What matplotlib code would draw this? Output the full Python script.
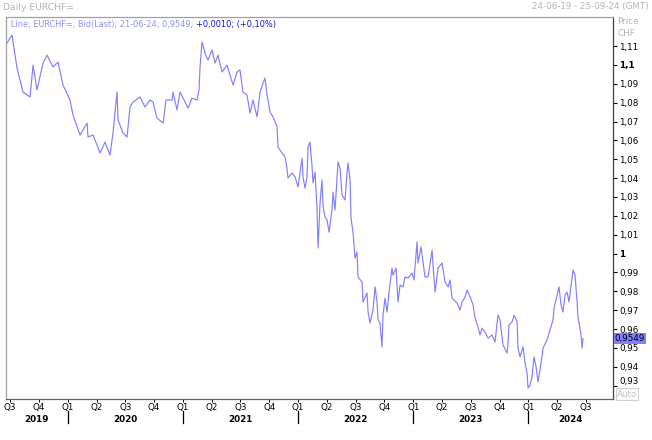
import matplotlib
matplotlib.use("Agg")
import matplotlib.pyplot as plt
import matplotlib.transforms as mtransforms

# EURCHF bid; time as decimal years (2019.5 = start of Q3 2019)
years = [
    2019.473, 2019.516, 2019.560, 2019.586, 2019.612, 2019.673, 2019.699, 2019.733, 2019.786, 2019.820,
    2019.872, 2019.916, 2019.959, 2020.020, 2020.046, 2020.107, 2020.168, 2020.176, 2020.220, 2020.281,
    2020.324, 2020.367, 2020.393, 2020.428, 2020.437, 2020.480, 2020.515, 2020.541, 2020.567, 2020.628,
    2020.671, 2020.715, 2020.741, 2020.775, 2020.828, 2020.854, 2020.906, 2020.914, 2020.949, 2020.975,
    2021.019, 2021.045, 2021.079, 2021.123, 2021.140, 2021.149, 2021.166, 2021.192, 2021.218, 2021.253,
    2021.279, 2021.305, 2021.340, 2021.383, 2021.409, 2021.436, 2021.470, 2021.496, 2021.522, 2021.557,
    2021.583, 2021.609, 2021.644, 2021.670, 2021.696, 2021.713, 2021.731, 2021.757, 2021.783, 2021.818,
    2021.826, 2021.861, 2021.887, 2021.904, 2021.913, 2021.948, 2021.974, 2022.000, 2022.035, 2022.043,
    2022.061, 2022.078, 2022.087, 2022.104, 2022.122, 2022.130, 2022.148, 2022.165, 2022.174, 2022.191,
    2022.208, 2022.217, 2022.234, 2022.252, 2022.269, 2022.295, 2022.304, 2022.321, 2022.347, 2022.365,
    2022.382, 2022.408, 2022.425, 2022.434, 2022.452, 2022.460, 2022.478, 2022.495, 2022.512, 2022.521,
    2022.556, 2022.564, 2022.599, 2022.608, 2022.625, 2022.651, 2022.669, 2022.686, 2022.695, 2022.712,
    2022.729, 2022.738, 2022.755, 2022.773, 2022.790, 2022.816, 2022.825, 2022.851, 2022.868, 2022.886,
    2022.912, 2022.929, 2022.955, 2022.990, 2023.007, 2023.033, 2023.042, 2023.068, 2023.085, 2023.103,
    2023.129, 2023.164, 2023.172, 2023.190, 2023.216, 2023.250, 2023.277, 2023.303, 2023.320, 2023.337,
    2023.381, 2023.407, 2023.424, 2023.450, 2023.468, 2023.494, 2023.520, 2023.537, 2023.563, 2023.580,
    2023.598, 2023.624, 2023.650, 2023.685, 2023.711, 2023.728, 2023.737, 2023.754, 2023.780, 2023.815,
    2023.824, 2023.832, 2023.858, 2023.876, 2023.902, 2023.910, 2023.928, 2023.954, 2023.971, 2023.989,
    2023.997, 2024.015, 2024.032, 2024.049, 2024.067, 2024.084, 2024.110, 2024.128, 2024.162, 2024.188,
    2024.214, 2024.223, 2024.249, 2024.266, 2024.284, 2024.301, 2024.319, 2024.336, 2024.353, 2024.379,
    2024.388, 2024.405, 2024.423, 2024.431, 2024.458, 2024.466, 2024.475,
]
prices = [
    1.1116, 1.1158, 1.0983, 1.0920, 1.0856, 1.0830, 1.0999, 1.0867, 1.1010, 1.1052,
    1.0989, 1.1015, 1.0893, 1.0814, 1.0734, 1.0628, 1.0692, 1.0618, 1.0628, 1.0533,
    1.0591, 1.0522, 1.0639, 1.0856, 1.0708, 1.0639, 1.0618, 1.0777, 1.0803, 1.0830,
    1.0777, 1.0814, 1.0803, 1.0718, 1.0692, 1.0814, 1.0814, 1.0856, 1.0761, 1.0856,
    1.0803, 1.0771, 1.0824, 1.0814, 1.0867, 1.0989, 1.1121, 1.1063, 1.1026, 1.1079,
    1.1010, 1.1052, 1.0962, 1.0999, 1.0946, 1.0893, 1.0962, 1.0973, 1.0856, 1.0840,
    1.0745, 1.0814, 1.0724, 1.0856, 1.0904, 1.0930, 1.0840, 1.0750, 1.0724, 1.0671,
    1.0565, 1.0533, 1.0512, 1.0453, 1.0400, 1.0427, 1.0406, 1.0353, 1.0506, 1.0406,
    1.0347, 1.0406, 1.0565, 1.0591, 1.0459, 1.0374, 1.0432, 1.0231, 1.0029, 1.0268,
    1.0390, 1.0247, 1.0194, 1.0178, 1.0114, 1.0231, 1.0326, 1.0231, 1.0485, 1.0453,
    1.0310, 1.0284, 1.0427, 1.0480, 1.0390, 1.0188, 1.0109, 0.9976, 1.0008, 0.9876,
    0.9849, 0.9743, 0.9791, 0.9690, 0.9632, 0.9701, 0.9823, 0.9743, 0.9648, 0.9632,
    0.9505, 0.9674, 0.9764, 0.9690, 0.9796, 0.9923, 0.9886, 0.9923, 0.9743, 0.9833,
    0.9823, 0.9876, 0.9870, 0.9897, 0.9860, 1.0061, 0.9950, 1.0035, 0.9955, 0.9876,
    0.9876, 1.0019, 0.9939, 0.9796, 0.9923, 0.9950, 0.9849, 0.9823, 0.9860, 0.9764,
    0.9738, 0.9701, 0.9743, 0.9770, 0.9807, 0.9770, 0.9727, 0.9658, 0.9611, 0.9568,
    0.9605, 0.9584, 0.9552, 0.9568, 0.9531, 0.9632, 0.9674, 0.9648, 0.9515, 0.9473,
    0.9531, 0.9621, 0.9637, 0.9674, 0.9637, 0.9499, 0.9452, 0.9505, 0.9420, 0.9367,
    0.9287, 0.9303, 0.9346, 0.9452, 0.9399, 0.9319, 0.9420, 0.9499, 0.9542, 0.9595,
    0.9648, 0.9711, 0.9780, 0.9823, 0.9727, 0.9690, 0.9780, 0.9796, 0.9743, 0.9870,
    0.9913, 0.9886, 0.9743, 0.9664, 0.9568, 0.9499, 0.9549,
]

last_price = 0.9549
price_ticks = [1.11, 1.10, 1.09, 1.08, 1.07, 1.06, 1.05, 1.04, 1.03, 1.02,
               1.01, 1.00, 0.99, 0.98, 0.97, 0.96, 0.95, 0.94, 0.93]
quarter_pos = [2019.5, 2019.75, 2020.0, 2020.25, 2020.5, 2020.75, 2021.0, 2021.25,
               2021.5, 2021.75, 2022.0, 2022.25, 2022.5, 2022.75, 2023.0, 2023.25,
               2023.5, 2023.75, 2024.0, 2024.25, 2024.5]
quarter_lbl = ['Q3', 'Q4', 'Q1', 'Q2', 'Q3', 'Q4', 'Q1', 'Q2', 'Q3', 'Q4', 'Q1',
               'Q2', 'Q3', 'Q4', 'Q1', 'Q2', 'Q3', 'Q4', 'Q1', 'Q2', 'Q3']
year_lbl = [2019, 2020, 2021, 2022, 2023, 2024]

plt.rcParams['font.family'] = ['DejaVu Sans']
fs = 6.3

fig = plt.figure(figsize=(6.52, 4.4), dpi=100)
W, H = 652.0, 440.0
ax = fig.add_axes([6 / W, 41 / H, 607 / W, 382 / H])

ax.plot(years, prices, color='#8080ff', lw=0.85)

x0, x1 = 2019.464, 2024.735
ax.set_xlim(x0, x1)
ax.set_ylim(0.9229, 1.1254)

for side in ['left', 'top']:
    ax.spines[side].set_color('#a0a0a0')
ax.spines['bottom'].set_color('#606060')
ax.spines['right'].set_color('#404040')
for s in ax.spines.values():
    s.set_linewidth(0.9)

# right price axis
ax.yaxis.tick_right()
ax.set_yticks(price_ticks)
lbls = []
for v in price_ticks:
    s = ('%.2f' % v).rstrip('0').rstrip('.')
    lbls.append(s.replace('.', ','))
ax.set_yticklabels(lbls)
ax.tick_params(axis='y', direction='out', length=3, width=0.8, pad=1.5,
               labelsize=fs, colors='black')
for t, v in zip(ax.get_yticklabels(), price_ticks):
    if abs(v - round(v, 1)) < 1e-9:
        t.set_fontweight('bold')
    if abs(v - 0.93) < 1e-9:
        t.set_va('bottom')

# last price marker on the axis
ytrans = mtransforms.blended_transform_factory(ax.transAxes, ax.transData)
ax.text(1.003, last_price, '0,9549', transform=ytrans, ha='left', va='center',
        fontsize=fs, color='black',
        bbox=dict(facecolor='#8080ff', edgecolor='none', pad=0.8))

# quarter axis
ax.set_xticks(quarter_pos)
ax.set_xticklabels(quarter_lbl)
ax.tick_params(axis='x', direction='out', length=2, width=0.7, pad=1.0,
               labelsize=fs, colors='black')
xtrans = mtransforms.blended_transform_factory(ax.transData, ax.transAxes)
for y in year_lbl:
    a = max(y, x0)
    b = min(y + 1, x1)
    ax.text((a + b) / 2, -20 / 382, str(y), transform=xtrans, ha='center',
            va='center', fontsize=fs, fontweight='bold')
    if y > year_lbl[0]:
        ax.plot([y, y], [-11.5 / 382, -24 / 382], transform=xtrans, color='black',
                lw=0.9, clip_on=False)

# header texts
hdr = ax.text(5 / 607, 1 - 7 / 382, 'Line; EURCHF=; Bid(Last); 21-06-24; 0,9549; ',
              transform=ax.transAxes, ha='left', va='center', fontsize=5.9,
              color='#9090f0')
ax.annotate('+0,0010; (+0,10%)', xy=(1, 0.5), xycoords=hdr, ha='left', va='center',
            fontsize=5.9, color='#1010e0')

grey = '#b4b4b4'
fig.text(3 / W, 1 - 7 / H, 'Daily EURCHF=', fontsize=fs + 0.4, color=grey, va='center')
fig.text(649 / W, 1 - 7 / H, '24-06-19 - 25-09-24 (GMT)', fontsize=fs, color=grey,
         va='center', ha='right')
fig.text(617 / W, 1 - 21 / H, 'Price', fontsize=fs, color=grey, va='center')
fig.text(617 / W, 1 - 33 / H, 'CHF', fontsize=fs, color=grey, va='center')
fig.text(617 / W, 1 - 394 / H, 'Auto', fontsize=fs, color='#c0c0c0', va='center',
         bbox=dict(facecolor='white', edgecolor='#d0d0d0', pad=0.8, lw=0.8))

fig.savefig('out.png', dpi=100)
